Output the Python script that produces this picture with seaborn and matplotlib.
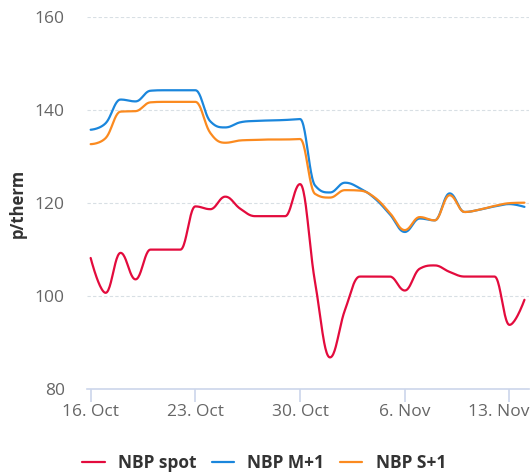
import numpy as np
import pandas as pd
import matplotlib
matplotlib.use("Agg")
import matplotlib.pyplot as plt
import matplotlib.dates as mdates
import matplotlib.transforms as mtransforms
import seaborn as sns

# ---- data ----
start_date = "2023-10-16"
n_days = 30
nbp_spot = [108.2, 100.7, 109.3, 103.6, 110.0, 110.0, 110.0, 119.3, 118.7, 121.4,
            118.8, 117.2, 117.2, 117.2, 124.1, 103.0, 86.8, 97.0, 104.2, 104.2,
            104.2, 101.2, 105.9, 106.6, 105.2, 104.2, 104.2, 104.2, 93.8, 99.2]
nbp_m1 = [135.8, 137.2, 142.3, 141.9, 144.2, 144.3, 144.3, 144.3, 137.6, 136.3,
          137.4, 137.7, 137.8, 137.9, 138.1, 123.8, 122.3, 124.4, 123.2, 121.0,
          117.6, 113.8, 116.7, 116.3, 122.1, 118.1, 118.6, 119.3, 119.8, 119.2]
nbp_s1 = [132.7, 134.0, 139.7, 139.8, 141.7, 141.8, 141.8, 141.8, 135.1, 133.0,
          133.5, 133.6, 133.7, 133.7, 133.8, 122.0, 121.2, 122.8, 122.7, 121.2,
          117.9, 114.2, 117.0, 116.3, 121.7, 118.1, 118.6, 119.4, 120.0, 120.1]
series_names = ["NBP spot", "NBP M+1", "NBP S+1"]
series_colors = ["#e30b3d", "#1a86dc", "#fb8a1f"]
y_ticks = [80, 100, 120, 140, 160]
x_tick_labels = ["16. Oct", "23. Oct", "30. Oct", "6. Nov", "13. Nov"]

dates = pd.date_range(start_date, periods=n_days, freq="D")


def spline_curve(xs, ys, samples=24, smoothing=1.5):
    """Bezier spline through the points (Highcharts-style control points)."""
    xs = np.asarray(xs, float)
    ys = np.asarray(ys, float)
    n = len(xs)
    lcx, lcy = xs.copy(), ys.copy()
    rcx, rcy = xs.copy(), ys.copy()
    den = smoothing + 1
    for i in range(1, n - 1):
        px, py = xs[i], ys[i]
        lx, ly = xs[i - 1], ys[i - 1]
        nx, ny = xs[i + 1], ys[i + 1]
        lX = (smoothing * px + lx) / den
        lY = (smoothing * py + ly) / den
        rX = (smoothing * px + nx) / den
        rY = (smoothing * py + ny) / den
        if rX != lX:
            corr = (rY - lY) * (rX - px) / (rX - lX) + py - rY
            lY += corr
            rY += corr
        if lY > ly and lY > py:
            lY = max(ly, py); rY = 2 * py - lY
        elif lY < ly and lY < py:
            lY = min(ly, py); rY = 2 * py - lY
        if rY > ny and rY > py:
            rY = max(ny, py); lY = 2 * py - rY
        elif rY < ny and rY < py:
            rY = min(ny, py); lY = 2 * py - rY
        lcx[i], lcy[i], rcx[i], rcy[i] = lX, lY, rX, rY
    t = np.linspace(0, 1, samples, endpoint=False)[:, None]
    outx, outy = [], []
    for i in range(1, n):
        P0 = np.array([xs[i - 1], ys[i - 1]])
        P1 = np.array([rcx[i - 1], rcy[i - 1]])
        P2 = np.array([lcx[i], lcy[i]])
        P3 = np.array([xs[i], ys[i]])
        pts = ((1 - t) ** 3) * P0 + 3 * ((1 - t) ** 2) * t * P1 + 3 * (1 - t) * t ** 2 * P2 + t ** 3 * P3
        outx.extend(pts[:, 0]); outy.extend(pts[:, 1])
    outx.append(xs[-1]); outy.append(ys[-1])
    return np.array(outx), np.array(outy)


sns.set_theme(style="white")
plt.rcParams["font.family"] = ["Open Sans", "DejaVu Sans"]

fig = plt.figure(figsize=(5.30, 4.73), dpi=100)
ax = fig.add_axes([0.164, 0.1776, 0.834, 0.7858])

xnum = mdates.date2num(dates)
frames = []
for name, vals in zip(series_names, [nbp_spot, nbp_m1, nbp_s1]):
    sx, sy = spline_curve(xnum, vals)
    frames.append(pd.DataFrame({"x": sx, "value": sy, "series": name}))
df = pd.concat(frames, ignore_index=True)

sns.lineplot(data=df, x="x", y="value", hue="series", hue_order=series_names,
             palette=series_colors, sort=False, estimator=None, units="series",
             linewidth=1.6, ax=ax, legend=True)

# axes styling (Highcharts-like)
ax.set_ylim(80, 160)
ax.set_yticks(y_ticks)
ax.set_xlim(xnum[0] - 0.25, xnum[-1] + 0.3)
tick_dates = pd.date_range(start_date, periods=len(x_tick_labels), freq="7D")
ax.set_xticks(mdates.date2num(tick_dates))
ax.set_xticklabels(x_tick_labels)

ax.grid(axis="y", color="#d8dfe4", linestyle=(0, (3, 2)), linewidth=0.8)
ax.grid(axis="x", visible=False)
for s in ["top", "right", "left"]:
    ax.spines[s].set_visible(False)
ax.spines["bottom"].set_color("#ccd6eb")
ax.spines["bottom"].set_linewidth(1.2)
ax.spines["bottom"].set_zorder(0.5)

ax.tick_params(axis="x", colors="#666666", labelsize=12.5, length=9, width=1.2,
               color="#ccd6eb", pad=2, bottom=True, direction="out")
ax.tick_params(axis="y", colors="#666666", labelsize=12.5, length=0, pad=16)
ax.set_xlabel("")
ax.set_ylabel("p/therm", fontsize=12, fontweight="bold", color="#333333")
ax.yaxis.set_label_coords(-0.136, 0.5)

# keep the last date label inside the figure (as the reference does)
last_lbl = ax.get_xticklabels()[-1]
last_lbl.set_horizontalalignment("right")
last_lbl.set_transform(last_lbl.get_transform() +
                       mtransforms.ScaledTranslation(20 / 100, 0, fig.dpi_scale_trans))

# legend at bottom centre
handles, labels = ax.get_legend_handles_labels()
ax.get_legend().remove()
leg = fig.legend(handles, labels, loc="center", bbox_to_anchor=(0.498, 1 - 463 / 473),
                 ncol=3, frameon=False, fontsize=12.5, handlelength=1.3,
                 handletextpad=0.75, columnspacing=0.9, borderaxespad=0)
for txt in leg.get_texts():
    txt.set_fontweight("bold")
    txt.set_color("#333333")
for h in leg.legend_handles:
    h.set_linewidth(1.6)

fig.savefig("out.png", dpi=100)
